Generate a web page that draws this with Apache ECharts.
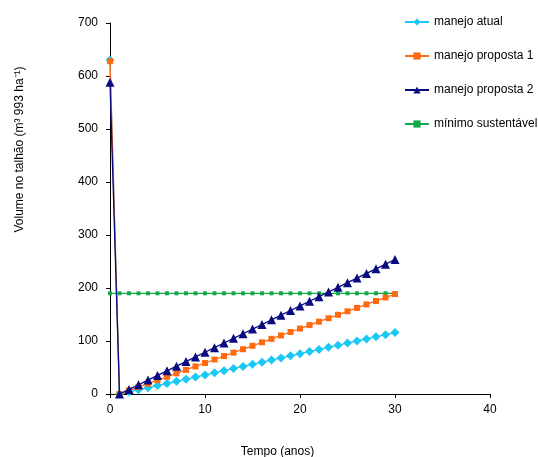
<!DOCTYPE html>
<html>
<head>
<meta charset="utf-8">
<script src="https://cdn.jsdelivr.net/npm/echarts@6/dist/echarts.min.js"></script>
<style>html,body{margin:0;padding:0;background:#fff}#c{width:538px;height:457px}</style>
</head>
<body>
<div id="c"></div>
<script>
var years = [0,1,2,3,4,5,6,7,8,9,10,11,12,13,14,15,16,17,18,19,20,21,22,23,24,25,26,27,28,29,30];
var manejoAtual = [630,0,4,8,12,16,20,24,28,32,36,40,44,48,52,56,60,64,68,72,76,80,84,88,92,96,100,104,108,112,116];
var manejoProposta1 = [628,0,6.5,13,19.5,26,32.5,39,45.5,52,58.5,65,71.5,78,84.5,91,97.5,104,110.5,117,123.5,130,136.5,143,149.5,156,162.5,169,175.5,182,188.5];
var manejoProposta2 = [588,0,8.7,17.5,26.2,35,43.7,52.5,61.2,70,78.7,87.5,96.2,105,113.7,122.5,131.2,140,148.7,157.5,166.2,175,183.7,192.5,201.2,210,218.7,227.5,236.2,245,253.7];
var minimoSustentavel = [190,190,190,190,190,190,190,190,190,190,190,190,190,190,190,190,190,190,190,190,190,190,190,190,190,190,190,190,190,190,190];
var seriesNames = ['manejo atual','manejo proposta 1','manejo proposta 2','mínimo sustentável'];
var xTicks = [0,10,20,30,40];
var yTicks = [0,100,200,300,400,500,600,700];

function pairs(v){ return years.map(function(x,i){ return [x, v[i]]; }); }
var font = 'Liberation Sans, Arial, sans-serif';
var chart = echarts.init(document.getElementById('c'), null, {renderer:'canvas'});
chart.setOption({
  animation:false,
  backgroundColor:'#fff',
  textStyle:{fontFamily:font},
  grid:{left:110, right:48, top:23, bottom:63, containLabel:false, outerBoundsMode:'none'},
  legend:{
    orient:'vertical', left:399, top:10, itemGap:20, itemWidth:24, itemHeight:9,
    textStyle:{fontSize:12, color:'#000', fontFamily:font, lineHeight:14},
    data:seriesNames
  },
  xAxis:{
    type:'value', min:xTicks[0], max:xTicks[xTicks.length-1], interval:10,
    name:'Tempo (anos)', nameLocation:'middle', nameGap:52,
    nameTextStyle:{fontSize:12, color:'#000', padding:[0,45,0,0]},
    axisLine:{onZero:false, lineStyle:{color:'#000', width:1}},
    axisTick:{inside:false, length:4, lineStyle:{color:'#000'}},
    axisLabel:{fontSize:12, color:'#000', margin:10},
    splitLine:{show:false}
  },
  yAxis:{
    type:'value', min:yTicks[0], max:yTicks[yTicks.length-1], interval:100,
    name:'Volume no talhão (m³ 993 ha⁻¹)', nameLocation:'middle', nameGap:84,
    nameTextStyle:{fontSize:12, color:'#000', padding:[0,0,0,118]},
    axisLine:{show:true, lineStyle:{color:'#000', width:1}},
    axisTick:{show:true, inside:false, length:4, lineStyle:{color:'#000'}},
    axisLabel:{fontSize:12, color:'#000', margin:12},
    splitLine:{show:false}
  },
  series:[
    {name:seriesNames[0], type:'line', data:pairs(manejoAtual), color:'#19c8f5',
     symbol:'diamond', symbolSize:9, lineStyle:{width:1.3}, z:3},
    {name:seriesNames[1], type:'line', data:pairs(manejoProposta1), color:'#ff6a10',
     symbol:'rect', symbolSize:6, lineStyle:{width:1.3}, z:4},
    {name:seriesNames[2], type:'line', data:pairs(manejoProposta2), color:'#0a0a80',
     symbol:'triangle', symbolSize:9, lineStyle:{width:1.3}, z:5},
    {name:seriesNames[3], type:'line', data:pairs(minimoSustentavel), color:'#13a84a',
     symbol:'rect', symbolSize:4, lineStyle:{width:1.3}, z:2}
  ]
});
</script>
</body>
</html>
